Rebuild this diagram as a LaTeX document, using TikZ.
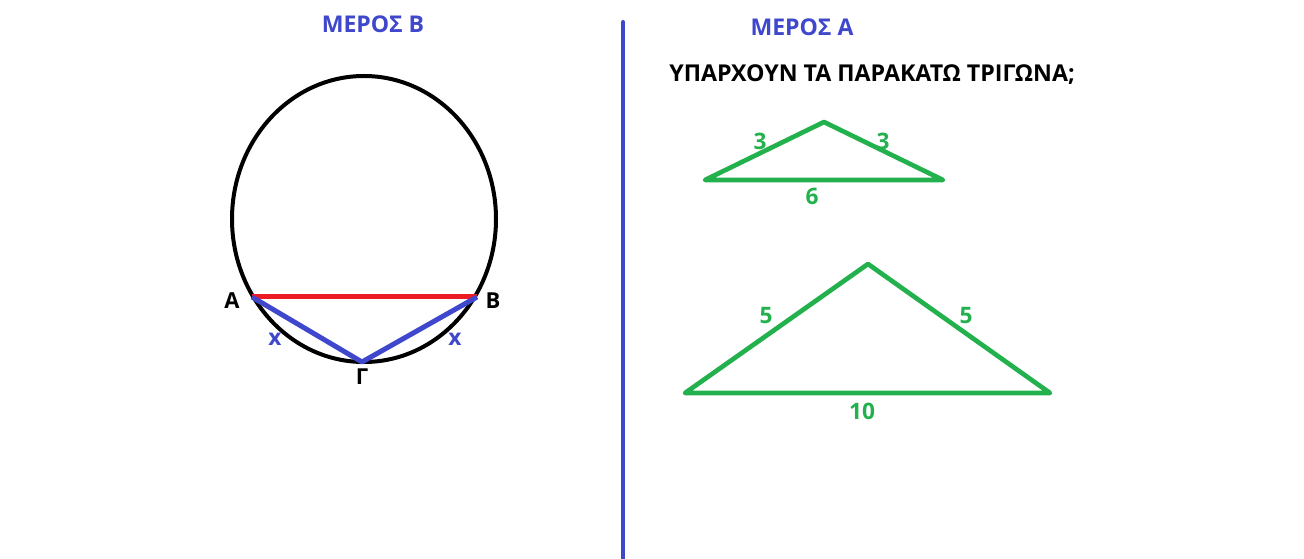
\documentclass[tikz,border=0pt]{standalone}
\usepackage{fontspec}
\setmainfont{Open Sans}[UprightFont=* Bold]
\definecolor{paintblue}{RGB}{63,72,204}
\definecolor{paintred}{RGB}{237,28,36}
\definecolor{paintgreen}{RGB}{34,177,76}
\begin{document}
\begin{tikzpicture}[x=0.75pt,y=0.75pt,yscale=-1,xscale=1,
  greenside/.style={draw=paintgreen,line width=3.5pt,line join=round,line cap=round},
  greenlabel/.style={text=paintgreen,inner sep=0.75pt,font=\fontsize{17}{20}\selectfont},
  bluelabel/.style={text=paintblue,inner sep=0.75pt,font=\fontsize{17.3}{21}\selectfont},
  pointlabel/.style={text=black,inner sep=0.75pt,font=\fontsize{16.5}{20}\selectfont}]
\useasboundingbox (0,0) rectangle (1304,559);

%Shape: Ellipse
\draw [line width=3pt] (364,219) ellipse [x radius=132, y radius=143];
%Coordinates on the circle
\coordinate (A) at (252,297);
\coordinate (B) at (477,297);
\coordinate (G) at (362,362);
%Straight Lines
\draw [color=paintred, line width=3.75pt] (A) -- (B);
\draw [color=paintblue, line width=3.75pt, line join=round] (A) -- (G) -- (B);

% Text Node
\node [pointlabel] (labA) at (232,301) {Α};
% Text Node
\node [pointlabel] (labB) at (493,301) {Β};
% Text Node
\node [pointlabel] (labG) at (362,377) {Γ};
% Text Node
\node [text=paintblue,inner sep=0.75pt,font=\fontsize{17}{20}\selectfont] (xAG) at (275,339) {x};
% Text Node
\node [text=paintblue,inner sep=0.75pt,font=\fontsize{17}{20}\selectfont] (xGB) at (455,339) {x};
% Text Node
\node [bluelabel] (titleB) at (373,24) {ΜΕΡΟΣ Β};

%Straight Lines [vertical divider]
\coordinate (divtop) at (623,22);
\coordinate (divbot) at (623,562);
\draw [color=paintblue, line width=3pt, line cap=round] (divtop) -- (divbot);

% Text Node
\node [bluelabel] (titleA) at (802,27) {ΜΕΡΟΣ Α};
% Text Node
\node [pointlabel,font=\fontsize{17.4}{21}\selectfont] (question) at (872,75) {ΥΠΑΡΧΟΥΝ ΤΑ ΠΑΡΑΚΑΤΩ ΤΡΙΓΩΝΑ;};

%Shape: Triangle [small]
\coordinate (t1l) at (705,180);
\coordinate (t1t) at (824,122);
\coordinate (t1r) at (943,180);
\draw [greenside] (t1l) -- (t1t) -- (t1r) -- cycle;
% Text Node
\node [greenlabel] (s1a) at (760,141) {3};
% Text Node
\node [greenlabel] (s1b) at (883,141) {3};
% Text Node
\node [greenlabel] (s1c) at (812,196) {6};

%Shape: Triangle [large]
\coordinate (t2l) at (685,393);
\coordinate (t2t) at (868,264);
\coordinate (t2r) at (1050,393);
\draw [greenside] (t2l) -- (t2t) -- (t2r) -- cycle;
% Text Node
\node [greenlabel] (s2a) at (766,316) {5};
% Text Node
\node [greenlabel] (s2b) at (966,316) {5};
% Text Node
\node [greenlabel] (s2c) at (862,411) {10};

\end{tikzpicture}
\end{document}
